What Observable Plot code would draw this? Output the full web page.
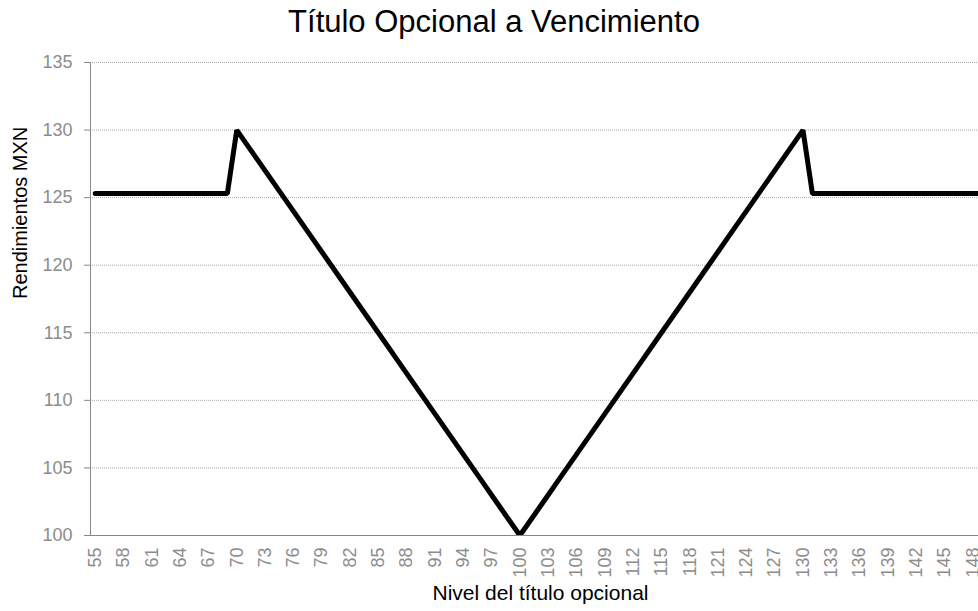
<!DOCTYPE html>
<html>
<head>
<meta charset="utf-8">
<script src="https://cdn.jsdelivr.net/npm/d3@7"></script>
<script src="https://cdn.jsdelivr.net/npm/@observablehq/plot@0.6"></script>
<style>
  html, body { margin: 0; padding: 0; background: #fff; overflow: hidden; }
  #title { width: 978px; height: 45px; box-sizing: border-box; padding-left: 10px; text-align: center;
           font-family: "Liberation Sans", Arial, sans-serif; font-size: 31px; line-height: 43px; color: #000; }
</style>
</head>
<body>
<div id="title">Título Opcional a Vencimiento</div>
<div id="chart"></div>
<script>
const titleText = "Título Opcional a Vencimiento";
const xLabel = "Nivel del título opcional";
const yLabel = "Rendimientos MXN";

const strikes = [
  55, 56, 57, 58, 59, 60, 61, 62, 63, 64, 65, 66, 67, 68, 69,
  70, 71, 72, 73, 74, 75, 76, 77, 78, 79, 80, 81, 82, 83, 84, 85, 86, 87, 88, 89,
  90, 91, 92, 93, 94, 95, 96, 97, 98, 99, 100, 101, 102, 103, 104, 105, 106, 107, 108, 109,
  110, 111, 112, 113, 114, 115, 116, 117, 118, 119, 120, 121, 122, 123, 124, 125, 126, 127, 128, 129, 130,
  131, 132, 133, 134, 135, 136, 137, 138, 139, 140, 141, 142, 143, 144, 145, 146, 147, 148, 149, 150
];
const rendimientos = [
  125.3, 125.3, 125.3, 125.3, 125.3, 125.3, 125.3, 125.3, 125.3, 125.3, 125.3, 125.3, 125.3, 125.3, 125.3,
  130, 129, 128, 127, 126, 125, 124, 123, 122, 121, 120, 119, 118, 117, 116, 115, 114, 113, 112, 111,
  110, 109, 108, 107, 106, 105, 104, 103, 102, 101, 100, 101, 102, 103, 104, 105, 106, 107, 108, 109,
  110, 111, 112, 113, 114, 115, 116, 117, 118, 119, 120, 121, 122, 123, 124, 125, 126, 127, 128, 129, 130,
  125.3, 125.3, 125.3, 125.3, 125.3, 125.3, 125.3, 125.3, 125.3, 125.3, 125.3, 125.3, 125.3, 125.3, 125.3, 125.3, 125.3, 125.3, 125.3, 125.3
];
const xTicks = [55, 58, 61, 64, 67, 70, 73, 76, 79, 82, 85, 88, 91, 94, 97, 100, 103, 106, 109, 112, 115, 118, 121, 124, 127, 130, 133, 136, 139, 142, 145, 148];
const yTicks = [100, 105, 110, 115, 120, 125, 130, 135];
const gridLines = [105, 110, 115, 120, 125, 130, 135];

const data = strikes.map((s, i) => ({strike: s, value: rendimientos[i]}));

const chart = Plot.plot({
  width: 978,
  height: 566,
  marginTop: 17,
  marginBottom: 76,
  marginLeft: 90,
  marginRight: 0,
  style: {fontFamily: "'Liberation Sans', Arial, sans-serif", background: "#fff", overflow: "visible"},
  x: {type: "linear", domain: [54.5, 148.6]},
  y: {domain: [100, 135]},
  marks: [
    Plot.ruleY(gridLines, {stroke: "#a8a8a8", strokeWidth: 1, strokeDasharray: "1,1"}),
    Plot.axisY({ticks: yTicks, tickSize: 6, tickPadding: 12, fontSize: 18, stroke: "#888", fill: "#8c8c8c", tickFormat: d => String(d), label: null}),
    Plot.axisX({ticks: xTicks, tickSize: 0, tickPadding: 12, tickRotate: -90, fontSize: 18, fill: "#8c8c8c", tickFormat: d => String(d), label: null}),
    Plot.ruleY([100], {stroke: "#888", strokeWidth: 1}),
    Plot.ruleX([54.5], {stroke: "#888", strokeWidth: 1}),
    Plot.line(data, {x: "strike", y: "value", stroke: "#000", strokeWidth: 5, strokeLinejoin: "miter", strokeLinecap: "round", clip: true}),
    Plot.text([yLabel], {frameAnchor: "left", dx: -70, rotate: -90, fontSize: 20, fill: "#000"}),
    Plot.text([xLabel], {frameAnchor: "bottom", dx: 6, dy: 64, fontSize: 21, fill: "#000"})
  ]
});
document.getElementById("chart").appendChild(chart);
</script>
</body>
</html>
